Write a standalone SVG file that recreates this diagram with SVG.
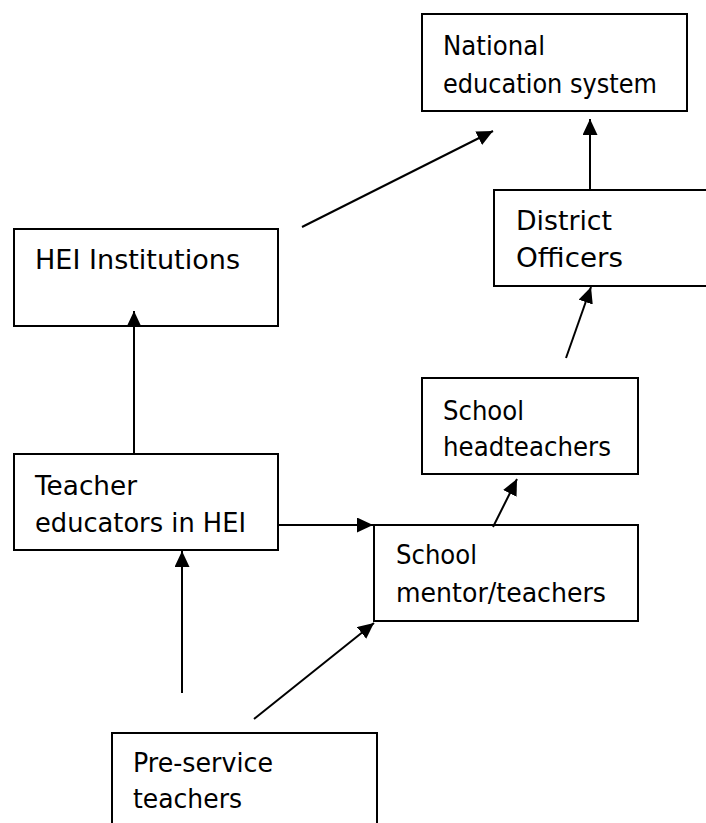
<svg xmlns="http://www.w3.org/2000/svg" width="706" height="823" viewBox="0 0 706 823">
<style>
.box{fill:#fff;stroke:#000;stroke-width:2}
.t{font-family:"DejaVu Sans",sans-serif;font-size:26px;fill:#000}
.c{stroke:#000;stroke-width:2;fill:none;marker-end:url(#ah)}
</style>
<defs>
<marker id="ah" markerUnits="userSpaceOnUse" markerWidth="17" markerHeight="15" refX="16" refY="7.5" orient="auto">
<path d="M0,0 L16,7.5 L0,15 z" fill="#000"/>
</marker>
</defs>
<rect width="706" height="823" fill="#fff"/>
<g id="national">
<rect class="box" x="422" y="14" width="265" height="97"/>
<text class="t" x="443" y="55" textLength="102" lengthAdjust="spacingAndGlyphs">National</text>
<text class="t" x="443" y="93" textLength="214" lengthAdjust="spacingAndGlyphs">education system</text>
</g>
<g id="district">
<rect class="box" x="494" y="190" width="240" height="96"/>
<text class="t" x="516" y="230" textLength="96" lengthAdjust="spacingAndGlyphs">District</text>
<text class="t" x="516" y="267" textLength="107" lengthAdjust="spacingAndGlyphs">Officers</text>
</g>
<g id="hei">
<rect class="box" x="14" y="229" width="264" height="97"/>
<text class="t" x="35" y="269" textLength="205" lengthAdjust="spacingAndGlyphs">HEI Institutions</text>
</g>
<g id="headteachers">
<rect class="box" x="422" y="378" width="216" height="96"/>
<text class="t" x="443" y="420" textLength="81" lengthAdjust="spacingAndGlyphs">School</text>
<text class="t" x="443" y="456" textLength="168" lengthAdjust="spacingAndGlyphs">headteachers</text>
</g>
<g id="teacher-educators">
<rect class="box" x="14" y="454" width="264" height="96"/>
<text class="t" x="35" y="495" textLength="102" lengthAdjust="spacingAndGlyphs">Teacher</text>
<text class="t" x="35" y="532" textLength="211" lengthAdjust="spacingAndGlyphs">educators in HEI</text>
</g>
<g id="mentor">
<rect class="box" x="374" y="525" width="264" height="96"/>
<text class="t" x="396" y="564" textLength="81" lengthAdjust="spacingAndGlyphs">School</text>
<text class="t" x="396" y="602" textLength="210" lengthAdjust="spacingAndGlyphs">mentor/teachers</text>
</g>
<g id="preservice">
<rect class="box" x="112" y="733" width="265" height="120"/>
<text class="t" x="133" y="772" textLength="140" lengthAdjust="spacingAndGlyphs">Pre-service</text>
<text class="t" x="133" y="808" textLength="109" lengthAdjust="spacingAndGlyphs">teachers</text>
</g>
<g id="connectors">
<line class="c" x1="302" y1="227" x2="493" y2="131"/>
<line class="c" x1="590" y1="190" x2="590" y2="119"/>
<line class="c" x1="566" y1="358" x2="591" y2="287"/>
<line class="c" x1="493" y1="527" x2="517" y2="479"/>
<line class="c" x1="134" y1="454" x2="134" y2="311"/>
<line class="c" x1="278" y1="525" x2="373" y2="525"/>
<line class="c" x1="182" y1="693" x2="182" y2="551"/>
<line class="c" x1="254" y1="719" x2="374" y2="623"/>
</g>
</svg>
